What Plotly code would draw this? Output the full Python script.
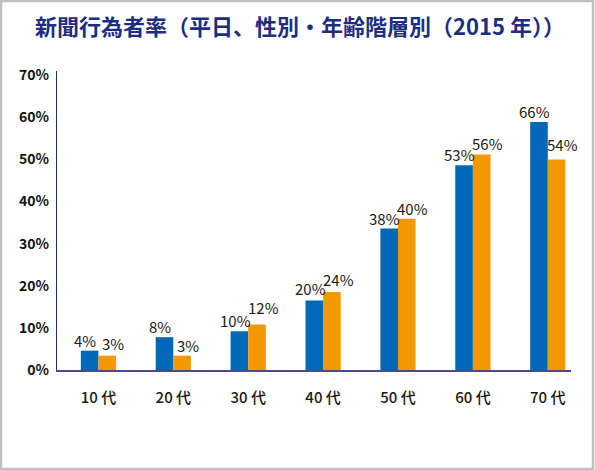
import plotly.graph_objects as go

# data
ages = ["10 代", "20 代", "30 代", "40 代", "50 代", "60 代", "70 代"]
blue_vals = [4.6, 7.8, 9.2, 16.5, 33.6, 48.6, 58.9]
orange_vals = [3.4, 3.4, 10.8, 18.5, 35.9, 51.2, 50.0]
blue_labels = ["4%", "8%", "10%", "20%", "38%", "53%", "66%"]
orange_labels = ["3%", "3%", "12%", "24%", "40%", "56%", "54%"]
y_ticks = [0, 10, 20, 30, 40, 50, 60, 70]

# extra lift (px) for a few orange labels, as in the original layout
orange_lift = {"10 代": 2, "30 代": 7, "40 代": 2, "70 代": 4}

W, H = 595, 470
L, R, T, B = 57, 24, 71, 100

fig = go.Figure()
fig.add_trace(go.Bar(x=ages, y=blue_vals, marker_color="#0068b7", marker_line_width=0))
fig.add_trace(go.Bar(x=ages, y=orange_vals, marker_color="#f39800", marker_line_width=0))

lab_font = dict(family="Noto Sans CJK JP", size=15, color="#231815")
for a, v, t in zip(ages, blue_vals, blue_labels):
    fig.add_annotation(x=a, y=v, text=t, showarrow=False, yanchor="bottom",
                       xshift=-13, yshift=-2 + (2 if a == "40 代" else 0), font=lab_font)
for a, v, t in zip(ages, orange_vals, orange_labels):
    fig.add_annotation(x=a, y=v, text=t, showarrow=False, yanchor="bottom",
                       xshift=15, yshift=-2 + orange_lift.get(a, 0), font=lab_font)

# outer frame
pw, ph = W - L - R, H - T - B
fig.add_shape(type="rect", xref="paper", yref="paper",
              x0=(1 - L) / pw, x1=(593 - L) / pw,
              y0=(H - B - 469) / ph, y1=(H - B - 1) / ph,
              line=dict(color="#c0c0c0", width=2.5), fillcolor="rgba(0,0,0,0)", layer="below")

fig.update_layout(
    width=W, height=H,
    margin=dict(l=L, r=R, t=T, b=B),
    paper_bgcolor="white", plot_bgcolor="white",
    barmode="group", bargap=0.53, bargroupgap=0,
    showlegend=False,
    title=dict(text="新聞行為者率（平日、性別・年齢階層別（2015 年））",
               x=300 / W, xref="container", xanchor="center", y=1 - 27 / H, yanchor="middle",
               font=dict(family="Noto Sans CJK JP", size=22, color="#1d2d80", weight="bold")),
    font=dict(family="Noto Sans CJK JP"),
)
fig.update_xaxes(range=[-0.553, 6.31], showline=True, linecolor="#4a4a8c", linewidth=1.5,
                 ticks="", tickfont=dict(size=15, color="#231815", weight=500),
                 ticklabelstandoff=13, showgrid=False, zeroline=False)
fig.update_yaxes(range=[0, 71], tickvals=y_ticks, ticktext=[f"{v}%" for v in y_ticks],
                 showline=True, linecolor="#1d2d6a", linewidth=1.2, ticks="",
                 tickfont=dict(size=14, color="#111111", weight="bold"),
                 ticklabelstandoff=4, showgrid=False, zeroline=False)

# drop the page's default body margin so the figure sits at the window corner
fig.write_html("out.html", config={"displayModeBar": False},
               post_script="document.body.style.margin='0px';")
